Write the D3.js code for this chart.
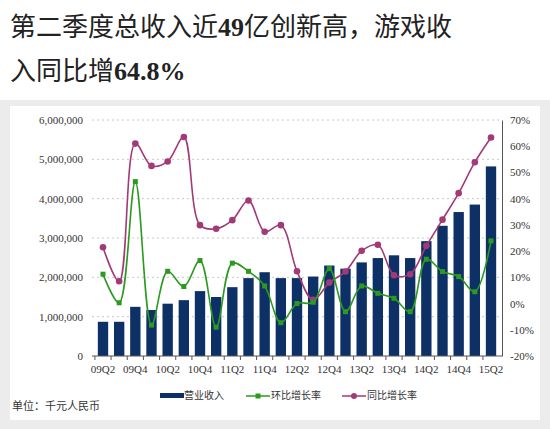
<!DOCTYPE html>
<html><head><meta charset="utf-8">
<script src="https://cdn.jsdelivr.net/npm/d3@7"></script>
<style>
body{margin:0;background:#fff;}
text{font-family:"Liberation Serif","Noto Sans CJK SC",serif;}
</style></head>
<body><svg id="chart"></svg>
<script>
const quarters = ['09Q2','09Q3','09Q4','10Q1','10Q2','10Q3','10Q4','11Q1','11Q2','11Q3','11Q4','12Q1','12Q2','12Q3','12Q4','13Q1','13Q2','13Q3','13Q4','14Q1','14Q2','14Q3','14Q4','15Q1','15Q2'];
const revenue = [870000,870000,1250000,1170000,1330000,1420000,1650000,1500000,1750000,1980000,2130000,1980000,1980000,2020000,2300000,2220000,2380000,2490000,2560000,2490000,2920000,3310000,3660000,3850000,4820000];
const qoq = [11.2,0.3,46.5,-8.2,12.3,6.5,16.4,-9,15.4,12.3,6.7,-7.3,0,0.5,13.3,-3.1,6.7,3.9,2,-3.1,16.9,12.2,10.3,4.5,23.9];
const yoy = [21.5,8.5,61,52.5,54.2,63.5,29.9,28.5,31.8,39.3,27.4,29.9,12.3,1.4,8,12.2,20.1,22.4,10.8,11.2,22,32,42.1,53.9,63.3];
const leftTicks = [0,1000000,2000000,3000000,4000000,5000000,6000000];
const rightTicks = [-20,-10,0,10,20,30,40,50,60,70];
const legendNames = ['营业收入','环比增长率','同比增长率'];

const W = 550, H = 429;
const svg = d3.select('#chart').attr('width', W).attr('height', H);
svg.append('rect').attr('width', W).attr('height', H).attr('fill', '#fff');
svg.append('rect').attr('x', 0).attr('y', 100).attr('width', W).attr('height', H - 100).attr('fill', '#ececec');
svg.append('rect').attr('x', 10).attr('y', 106).attr('width', 530).attr('height', 314).attr('fill', '#fff');

// title
const t1 = svg.append('text').attr('x', 10).attr('y', 36).style('font-size', '26px').style('fill', '#222');
t1.append('tspan').text('第二季度总收入近');
t1.append('tspan').text('49').style('font-weight', 'bold');
t1.append('tspan').text('亿创新高，游戏收');
const t2 = svg.append('text').attr('x', 10).attr('y', 80).style('font-size', '26px').style('fill', '#222');
t2.append('tspan').text('入同比增');
t2.append('tspan').text('64.8%').style('font-weight', 'bold');

const m = {left: 92, right: 502, top: 120, bottom: 356};
const x = d3.scaleBand().domain(quarters).range([m.left, m.right]).padding(0.36);
const y = d3.scaleLinear().domain([0, 6000000]).range([m.bottom, m.top]);
const y2 = d3.scaleLinear().domain([-20, 70]).range([m.bottom, m.top]);
const cx = d => x(d) + x.bandwidth() / 2;

// grid
svg.append('g').selectAll('line').data(leftTicks.slice(1)).join('line')
	.attr('x1', m.left).attr('x2', m.right)
	.attr('y1', d => y(d)).attr('y2', d => y(d))
	.attr('stroke', '#c8c8c8').attr('stroke-dasharray', '2,3');

// bars
svg.append('g').selectAll('rect').data(revenue).join('rect')
	.attr('x', (d, i) => x(quarters[i])).attr('width', x.bandwidth())
	.attr('y', d => y(d)).attr('height', d => y(0) - y(d))
	.attr('fill', '#0d3166');

// axes
const xAxis = svg.append('g').attr('transform', `translate(0,${m.bottom})`)
	.call(d3.axisBottom(x).tickSize(4).tickFormat((d, i) => i % 2 === 0 ? d : ''));
xAxis.select('.domain').attr('d', `M${m.left},0H${m.right}`).attr('stroke', '#555');
xAxis.selectAll('.tick line').attr('transform', `translate(${-x.step() / 2},0)`).attr('stroke', '#555');
xAxis.selectAll('text').style('font-size', '11px').attr('dy', '0.9em').attr('fill', '#333');

const yAxis = svg.append('g').attr('transform', `translate(${m.left - 6},0)`)
	.call(d3.axisLeft(y).tickValues(leftTicks).tickSize(0).tickFormat(d3.format(',')));
yAxis.select('.domain').remove();
yAxis.selectAll('text').style('font-size', '11px').attr('fill', '#333');

const yAxisR = svg.append('g').attr('transform', `translate(${m.right},0)`)
	.call(d3.axisRight(y2).tickValues(rightTicks).tickSize(0).tickPadding(8).tickFormat(d => d + '%'));
yAxisR.select('.domain').attr('stroke', '#555');
yAxisR.selectAll('text').style('font-size', '11px').attr('fill', '#333');

// lines
const curve = d3.curveCatmullRom.alpha(0.5);
const drawLine = (vals, color, shape) => {
	const line = d3.line().x((d, i) => cx(quarters[i])).y(d => y2(d)).curve(curve);
	svg.append('path').datum(vals).attr('d', line).attr('fill', 'none')
		.attr('stroke', color).attr('stroke-width', 1.6);
	const g = svg.append('g');
	if (shape === 'circle') {
		g.selectAll('circle').data(vals).join('circle')
			.attr('cx', (d, i) => cx(quarters[i])).attr('cy', d => y2(d)).attr('r', 3.3).attr('fill', color);
	} else {
		g.selectAll('rect').data(vals).join('rect')
			.attr('x', (d, i) => cx(quarters[i]) - 2.5).attr('y', d => y2(d) - 2.5)
			.attr('width', 5).attr('height', 5).attr('fill', color);
	}
};
drawLine(yoy, '#a23a78', 'circle');
drawLine(qoq, '#2b9a1f', 'square');

// footer / legend
svg.append('text').attr('x', 12).attr('y', 410).text('单位：千元人民币')
	.style('font-family', '"Noto Sans CJK SC"').style('font-size', '11px').attr('fill', '#333');
const lg = svg.append('g').style('font-family', '"Noto Sans CJK SC"').style('font-size', '10px');
lg.append('rect').attr('x', 160).attr('y', 393).attr('width', 24).attr('height', 5).attr('fill', '#0d3166');
lg.append('text').attr('x', 184).attr('y', 399).text(legendNames[0]).attr('fill', '#333');
lg.append('line').attr('x1', 246).attr('x2', 270).attr('y1', 396).attr('y2', 396).attr('stroke', '#2b9a1f').attr('stroke-width', 1.5);
lg.append('rect').attr('x', 255.5).attr('y', 393.5).attr('width', 5).attr('height', 5).attr('fill', '#2b9a1f');
lg.append('text').attr('x', 271).attr('y', 399).text(legendNames[1]).attr('fill', '#333');
lg.append('line').attr('x1', 342).attr('x2', 366).attr('y1', 396).attr('y2', 396).attr('stroke', '#a23a78').attr('stroke-width', 1.5);
lg.append('circle').attr('cx', 354).attr('cy', 396).attr('r', 3).attr('fill', '#a23a78');
lg.append('text').attr('x', 367).attr('y', 399).text(legendNames[2]).attr('fill', '#333');
</script></body></html>
